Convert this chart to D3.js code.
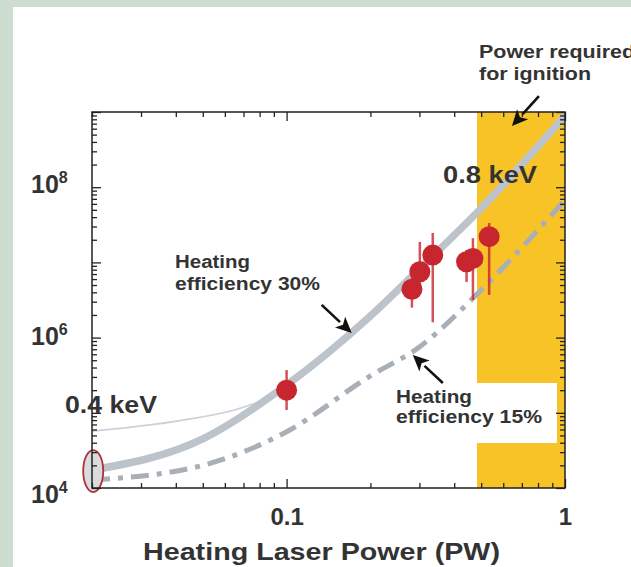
<!DOCTYPE html>
<html><head><meta charset="utf-8">
<script src="https://cdn.jsdelivr.net/npm/d3@7"></script>
<style>
body{margin:0;background:#fff}
svg{display:block}
text{font-family:"Liberation Sans",Arial,Helvetica,sans-serif;font-weight:bold;fill:#333}
</style>
</head><body>
<svg id="chart" width="631" height="567"></svg>
<script>
// ---------- data ----------
const powerPW      = [0.02, 0.05, 0.1, 0.2, 0.3, 0.5, 1.0];
const yield30      = [1.73e4, 4.5e4, 2.34e5, 1.94e6, 8.2e6, 5.25e7, 8.9e8];   // heating efficiency 30%
const yield15      = [1.28e4, 2.0e4, 5.6e4, 3.1e5, 7.5e5, 4.3e6, 6.8e7];     // heating efficiency 15%
const keV04PW      = [0.02, 0.0425, 0.065, 0.098];
const keV04Yield   = [5.7e4, 8.0e4, 1.09e5, 1.89e5];
const expPW        = [0.1, 0.282, 0.301, 0.335, 0.443, 0.467, 0.534];
const expYield     = [2.0e5, 4.4e6, 7.5e6, 1.25e7, 1.02e7, 1.13e7, 2.2e7];
const expLow       = [1.09e5, 2.5e6, 4.3e6, 1.6e6, 5.5e6, 3.16e6, 3.7e6];
const expHigh      = [3.7e5, 6.2e6, 1.87e7, 2.46e7, 1.46e7, 2.1e7, 3.34e7];
const startPW      = [0.0202];
const startYield   = [1.68e4];
const ignitionPW   = [0.483, 1.0];
const labelBoxPW   = [0.483, 0.936];
const labelBoxY    = [3.96e4, 2.49e5];
const xTickValues  = [0.1, 1];
const xTickLabels  = ["0.1", "1"];
const yTickValues  = [1e4, 1e6, 1e8];
const yTickExp     = ["4", "6", "8"];
const xTitle       = "Heating Laser Power (PW)";
// arrows: [tailPW, tailYield, tipPW, tipYield]
const arrow30      = [0.1336, 2.72e6, 0.1714, 1.15e6];
const arrow15      = [0.364, 2.49e5, 0.284, 5.87e5];
const arrowIgn     = [0.806, 1.63e9, 0.645, 6.5e8];

// ---------- setup ----------
const svg = d3.select("#chart");
const L = 92, R = 565, T = 112, B = 488;
const x = d3.scaleLog().domain([0.02, 1]).range([L, R]);
const y = d3.scaleLog().domain([1e4, 1e9]).range([B, T]);

// background frame
svg.append("rect").attr("width", 631).attr("height", 567).attr("fill", "#fff");
svg.append("rect").attr("x", 0).attr("y", 0).attr("width", 13).attr("height", 567).attr("fill", "#CCDCCF");
svg.append("rect").attr("x", 0).attr("y", 0).attr("width", 631).attr("height", 7).attr("fill", "#CCDCCF");

svg.append("defs").append("clipPath").attr("id", "clip")
  .append("rect").attr("x", L).attr("y", T).attr("width", R - L).attr("height", B - T);

// ignition band
svg.append("rect")
  .attr("x", x(ignitionPW[0])).attr("y", y(1e9))
  .attr("width", x(ignitionPW[1]) - x(ignitionPW[0]))
  .attr("height", y(1e4) - y(1e9))
  .attr("fill", "#F8C326");
// white label box
svg.append("rect")
  .attr("x", x(labelBoxPW[0])).attr("y", y(labelBoxY[1]))
  .attr("width", x(labelBoxPW[1]) - x(labelBoxPW[0]))
  .attr("height", y(labelBoxY[0]) - y(labelBoxY[1]))
  .attr("fill", "#fff");

const g = svg.append("g").attr("clip-path", "url(#clip)");
const line = d3.line().x(d => x(d[0])).y(d => y(d[1])).curve(d3.curveMonotoneX);

g.append("path").datum(keV04PW.map((p, i) => [p, keV04Yield[i]]))
  .attr("d", line).attr("fill", "none").attr("stroke", "#C9D1DA").attr("stroke-width", 1.6);
g.append("path").datum(powerPW.map((p, i) => [p, yield30[i]]))
  .attr("d", line).attr("fill", "none").attr("stroke", "#BCC3CB").attr("stroke-width", 7.5)
  .attr("stroke-linecap", "round");
g.append("path").datum(powerPW.map((p, i) => [p, yield15[i]]))
  .attr("d", line).attr("fill", "none").attr("stroke", "#A8AFB7").attr("stroke-width", 5)
  .attr("stroke-dasharray", "18,8,5,8");

// start ellipse
svg.selectAll(".start").data(startPW).enter().append("ellipse")
  .attr("cx", (d, i) => x(d)).attr("cy", (d, i) => y(startYield[i]))
  .attr("rx", 10).attr("ry", 21)
  .attr("fill", "#D9DBDE").attr("stroke", "#B0313A").attr("stroke-width", 1.8);

// experimental points
const exp = expPW.map((p, i) => ({p, v: expYield[i], lo: expLow[i], hi: expHigh[i]}));
svg.selectAll(".err").data(exp).enter().append("line")
  .attr("x1", d => x(d.p)).attr("x2", d => x(d.p))
  .attr("y1", d => y(d.lo)).attr("y2", d => y(d.hi))
  .attr("stroke", "#C8262F").attr("stroke-opacity", 0.8).attr("stroke-width", 2.5);
svg.selectAll(".pt").data(exp).enter().append("circle")
  .attr("cx", d => x(d.p)).attr("cy", d => y(d.v)).attr("r", 10.5)
  .attr("fill", "#C8262F");

// axes: ticks inward
const minorX = [];
[0.01, 0.1].forEach(dec => { for (let k = 2; k <= 9; k++) minorX.push(+(dec * k).toPrecision(3)); });
const minorY = [];
for (let e = 4; e <= 8; e++) for (let k = 2; k <= 9; k++) minorY.push(k * Math.pow(10, e));
const majorY = [1e4, 1e5, 1e6, 1e7, 1e8, 1e9];

function styleAxis(sel) {
  sel.select(".domain").remove();
  sel.selectAll("line").attr("stroke", "#222").attr("stroke-width", 1.3);
}
svg.append("g").attr("transform", `translate(0,${B})`)
  .call(d3.axisBottom(x).tickValues(minorX).tickSize(-5).tickFormat("")).call(styleAxis);
svg.append("g").attr("transform", `translate(0,${T})`)
  .call(d3.axisTop(x).tickValues(minorX).tickSize(-5).tickFormat("")).call(styleAxis);
svg.append("g").attr("transform", `translate(0,${T})`)
  .call(d3.axisTop(x).tickValues(xTickValues).tickSize(-9).tickFormat("")).call(styleAxis);
const bx = svg.append("g").attr("transform", `translate(0,${B})`)
  .call(d3.axisBottom(x).tickValues(xTickValues).tickSize(-9).tickPadding(20)
    .tickFormat((d, i) => xTickLabels[i])).call(styleAxis);
bx.selectAll("text").attr("font-size", 24).attr("fill", "#333")
  .attr("font-family", '"Liberation Sans",Arial,sans-serif').attr("font-weight", "bold");

svg.append("g").attr("transform", `translate(${L},0)`)
  .call(d3.axisLeft(y).tickValues(minorY).tickSize(-5).tickFormat("")).call(styleAxis);
svg.append("g").attr("transform", `translate(${L},0)`)
  .call(d3.axisLeft(y).tickValues(majorY).tickSize(-9).tickFormat("")).call(styleAxis);
svg.append("g").attr("transform", `translate(${R},0)`)
  .call(d3.axisRight(y).tickValues(minorY).tickSize(-5).tickFormat("")).call(styleAxis);
svg.append("g").attr("transform", `translate(${R},0)`)
  .call(d3.axisRight(y).tickValues(majorY).tickSize(-9).tickFormat("")).call(styleAxis);

// frame
svg.append("rect").attr("x", L).attr("y", T).attr("width", R - L).attr("height", B - T)
  .attr("fill", "none").attr("stroke", "#222").attr("stroke-width", 1.5);

// y tick labels with superscripts
const yOffsets = [15, 7, 6];
yTickValues.forEach((v, i) => {
  const t = svg.append("text").attr("x", 31).attr("y", y(v) + yOffsets[i]).attr("font-size", 25);
  t.append("tspan").text("10");
  t.append("tspan").attr("dy", -10).attr("font-size", 16).text(yTickExp[i]);
});

// axis title
svg.append("text").attr("x", 143).attr("y", 560).attr("font-size", 24)
  .attr("textLength", 357).attr("lengthAdjust", "spacingAndGlyphs").text(xTitle);

// annotations
function label(txt, px, py, size, len) {
  svg.append("text").attr("x", px).attr("y", py).attr("font-size", size)
    .attr("textLength", len).attr("lengthAdjust", "spacingAndGlyphs").text(txt);
}
label("Power required", 479, 58, 17.5, 156);
label("for ignition", 479, 80, 17.5, 112);
label("Heating", 175, 268, 17.5, 75);
label("efficiency 30%", 175, 290, 17.5, 145);
label("Heating", 396, 403, 17.5, 76);
label("efficiency 15%", 396, 423, 17.5, 146);
label("0.4 keV", 65, 413, 23, 92);
label("0.8 keV", 443, 183, 23, 94);

function arrow(a) {
  const x0 = x(a[0]), y0 = y(a[1]), x1 = x(a[2]), y1 = y(a[3]);
  const ang = Math.atan2(y1 - y0, x1 - x0);
  const hl = 16, hw = 7.5;
  const bx0 = x1 - hl * Math.cos(ang), by0 = y1 - hl * Math.sin(ang);
  const nx = -Math.sin(ang), ny = Math.cos(ang);
  svg.append("line").attr("x1", x0).attr("y1", y0).attr("x2", bx0).attr("y2", by0)
    .attr("stroke", "#111").attr("stroke-width", 2.6);
  const notch = [x1 - (hl - 4) * Math.cos(ang), y1 - (hl - 4) * Math.sin(ang)];
  svg.append("path").attr("d", `M${x1},${y1}L${bx0 + nx * hw},${by0 + ny * hw}L${notch[0]},${notch[1]}L${bx0 - nx * hw},${by0 - ny * hw}Z`)
    .attr("fill", "#111");
}
[arrow30, arrow15, arrowIgn].forEach(arrow);
</script>
</body></html>
